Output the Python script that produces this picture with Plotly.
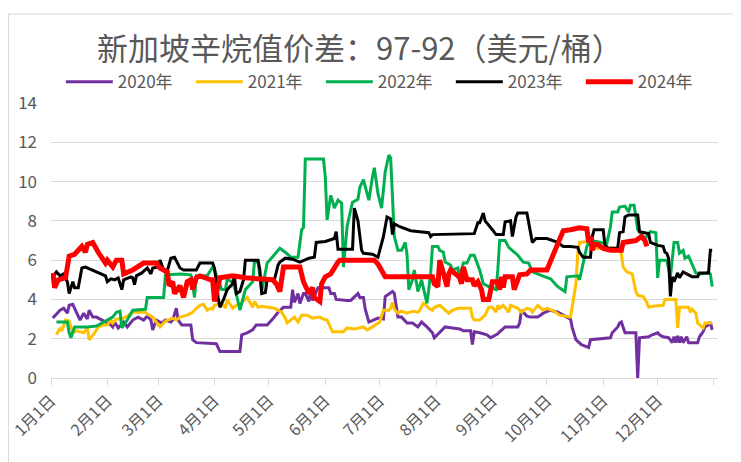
import pandas as pd
import plotly.graph_objects as go

# day of year (1 = Jan 1) and spread values for each year
day_2020 = [2, 5, 6, 8, 10, 11, 13, 14, 15, 17, 19, 21, 22, 24, 26, 29, 32, 34, 35, 36, 38, 41, 43, 46, 49,
            52, 54, 56, 57, 59, 62, 64, 67, 68, 70, 71, 73, 78, 79, 81, 92, 94, 105, 106, 109, 112, 114, 120,
            123, 126, 129, 133, 134, 135, 137, 138, 140, 141, 143, 144, 145, 148, 154, 155, 157, 158, 164, 166,
            170, 171, 173, 174, 176, 181, 184, 185, 189, 190, 192, 194, 197, 200, 203, 205, 208, 211, 212, 215,
            218, 222, 226, 228, 232, 233, 234, 237, 241, 243, 247, 248, 251, 254, 258, 259, 260, 263, 265, 269,
            272, 276, 280, 283, 287, 288, 290, 293, 296, 297, 298, 309, 310, 313, 314, 315, 317, 320, 323, 324,
            325, 330, 332, 335, 336, 338, 341, 343, 344, 345, 346, 347, 348, 349, 351, 352, 354, 357, 358, 360,
            361, 363, 364, 365]
val_2020 = [3.05, 3.35, 3.45, 3.55, 3.3, 3.7, 3.75, 3.55, 3.35, 2.95, 3.3, 3.0, 3.45, 3.1, 3.1, 2.95, 2.8, 2.7,
            2.6, 2.85, 2.55, 2.85, 2.6, 2.95, 3.1, 2.95, 3.15, 2.95, 2.45, 2.95, 2.8, 2.95, 2.85, 2.95, 3.55,
            2.95, 2.7, 2.7, 1.95, 1.8, 1.75, 1.35, 1.35, 2.2, 2.3, 2.45, 2.7, 2.7, 3.0, 3.35, 3.6, 3.6, 4.5,
            3.85, 4.3, 3.8, 4.3, 4.3, 3.9, 4.4, 3.95, 4.6, 4.6, 4.3, 4.3, 4.0, 3.95, 3.95, 4.3, 4.1, 4.1, 3.5,
            2.85, 3.05, 3.0, 4.15, 4.4, 4.3, 3.1, 3.1, 2.8, 2.8, 2.6, 2.85, 2.6, 2.3, 2.05, 2.35, 2.6, 2.55,
            2.5, 2.4, 2.4, 1.7, 2.35, 2.3, 2.2, 2.05, 2.25, 2.35, 2.6, 2.6, 2.6, 2.8, 3.45, 3.15, 3.1, 3.1, 3.3,
            3.45, 3.35, 3.2, 3.0, 2.55, 1.95, 1.7, 1.6, 1.55, 1.95, 2.05, 2.3, 2.6, 2.8, 2.85, 2.3, 2.3, 2.3,
            0.0, 2.05, 2.1, 2.2, 2.3, 2.2, 2.1, 2.05, 1.8, 2.1, 1.8, 2.15, 1.8, 2.1, 1.8, 2.1, 1.8, 1.8, 1.8,
            2.1, 2.35, 2.6, 2.7, 2.85, 2.45]

day_2021 = [4, 6, 7, 9, 11, 13, 15, 19, 21, 22, 25, 27, 30, 32, 34, 35, 37, 39, 41, 43, 46, 53, 54, 57, 59, 61,
            64, 67, 68, 70, 72, 76, 79, 81, 83, 85, 87, 89, 90, 91, 93, 96, 97, 98, 101, 103, 105, 109, 111,
            112, 113, 115, 117, 120, 124, 128, 130, 131, 134, 135, 137, 139, 142, 145, 149, 151, 153, 155, 156,
            162, 164, 168, 171, 173, 175, 178, 182, 184, 187, 188, 189, 190, 192, 194, 197, 200, 203, 204, 206,
            207, 209, 211, 212, 215, 220, 222, 225, 232, 233, 234, 237, 239, 240, 242, 244, 246, 247, 248, 250,
            253, 254, 258, 260, 263, 265, 266, 269, 272, 274, 278, 281, 287, 288, 290, 291, 292, 297, 300, 314,
            315, 316, 318, 321, 323, 324, 327, 329, 330, 332, 338, 339, 345, 346, 347, 352, 353, 354, 356, 357,
            360, 361, 365]
val_2021 = [2.2, 2.55, 2.4, 2.95, 2.9, 2.3, 2.4, 2.3, 2.55, 1.95, 2.3, 2.6, 2.7, 2.7, 2.95, 2.8, 3.0, 3.0, 3.05,
            3.15, 3.35, 3.35, 3.25, 3.1, 2.85, 2.6, 2.9, 3.0, 3.05, 2.95, 3.1, 3.2, 3.35, 3.55, 3.7, 3.75, 3.45,
            3.55, 3.5, 3.7, 3.75, 3.7, 3.55, 4.0, 3.55, 3.7, 3.75, 4.1, 3.75, 3.6, 3.9, 3.6, 3.65, 3.6, 3.55,
            3.35, 3.05, 2.8, 3.0, 3.1, 2.85, 3.2, 3.2, 3.05, 3.1, 3.0, 2.95, 2.6, 2.35, 2.35, 2.55, 2.5, 2.55,
            2.6, 2.45, 2.6, 2.85, 3.45, 3.45, 3.55, 3.85, 3.5, 3.3, 3.4, 3.3, 3.4, 3.35, 3.45, 3.8, 3.75, 3.55,
            3.45, 3.6, 3.7, 3.3, 3.45, 3.55, 3.55, 3.1, 2.95, 2.95, 3.1, 3.2, 3.6, 3.6, 3.35, 3.7, 3.55, 3.7,
            3.35, 3.7, 3.55, 3.35, 3.55, 3.5, 3.35, 3.7, 3.45, 3.55, 3.4, 3.2, 3.1, 3.6, 4.8, 6.35, 6.9, 6.95,
            6.6, 6.6, 6.3, 5.65, 5.4, 5.3, 4.4, 4.2, 4.15, 3.85, 3.6, 3.65, 3.7, 4.0, 4.0, 2.55, 3.6, 3.6, 3.35,
            3.5, 3.3, 2.8, 2.55, 2.8, 2.8]

day_2022 = [4, 10, 11, 12, 14, 21, 26, 35, 37, 39, 40, 42, 43, 46, 53, 54, 63, 64, 72, 78, 79, 80, 81, 87, 90,
            91, 93, 95, 97, 98, 101, 103, 105, 108, 112, 113, 115, 117, 120, 123, 125, 127, 130, 133, 137, 139,
            140, 141, 151, 152, 153, 155, 156, 157, 159, 161, 162, 164, 166, 167, 170, 171, 173, 174, 176, 178,
            179, 181, 183, 185, 187, 188, 189, 190, 192, 194, 196, 197, 198, 200, 201, 203, 205, 207, 208, 210,
            211, 214, 215, 217, 218, 221, 222, 225, 226, 228, 230, 232, 234, 237, 239, 242, 246, 247, 248, 251,
            253, 258, 261, 264, 266, 273, 276, 280, 284, 285, 291, 292, 294, 296, 298, 303, 307, 309, 310, 313,
            314, 317, 319, 320, 322, 323, 324, 328, 331, 334, 335, 336, 340, 342, 344, 346, 347, 349, 350, 352,
            354, 356, 358, 363, 364, 365]
val_2022 = [2.85, 2.85, 2.3, 2.05, 2.6, 2.6, 2.65, 3.1, 3.35, 3.4, 2.55, 2.8, 2.95, 3.45, 3.5, 4.1, 4.1, 5.25,
            5.3, 5.25, 4.8, 4.1, 5.2, 5.2, 5.65, 5.5, 5.0, 4.5, 4.5, 5.0, 4.9, 4.3, 3.45, 4.5, 4.9, 5.9, 5.9,
            4.4, 5.85, 6.15, 6.4, 6.6, 6.4, 6.15, 6.15, 7.55, 7.65, 11.15, 11.15, 10.25, 8.05, 9.3, 9.0, 8.65,
            9.05, 8.9, 5.65, 7.7, 8.55, 8.95, 9.1, 9.7, 10.1, 9.7, 9.05, 10.25, 10.7, 9.4, 8.65, 10.5, 11.35,
            11.2, 9.4, 7.2, 6.5, 6.5, 6.9, 6.3, 4.5, 5.0, 5.5, 4.4, 5.0, 4.1, 3.8, 5.3, 6.7, 6.7, 6.5, 6.4, 5.9,
            5.75, 5.5, 5.6, 5.15, 5.85, 5.85, 6.25, 6.25, 5.5, 4.8, 4.65, 4.5, 5.5, 7.0, 7.0, 6.65, 6.25, 5.9,
            5.85, 5.4, 5.15, 5.05, 4.65, 4.4, 5.15, 5.2, 5.0, 5.85, 6.7, 7.0, 6.9, 6.85, 7.7, 8.45, 8.45, 8.7,
            8.75, 8.45, 8.8, 8.8, 8.2, 7.55, 7.1, 7.45, 7.4, 5.1, 6.0, 6.0, 5.15, 6.9, 6.9, 6.35, 6.5, 6.1, 6.2,
            5.75, 5.35, 5.3, 5.35, 5.3, 4.65]

day_2023 = [2, 4, 6, 8, 10, 11, 13, 14, 16, 18, 20, 30, 31, 32, 34, 36, 38, 40, 41, 45, 46, 47, 48, 51, 54, 56,
            57, 60, 61, 63, 65, 67, 69, 72, 74, 81, 83, 90, 91, 93, 94, 96, 98, 101, 102, 103, 105, 107, 108,
            115, 116, 117, 119, 120, 124, 126, 127, 130, 134, 138, 143, 146, 147, 152, 156, 157, 158, 159, 167,
            168, 170, 171, 172, 173, 178, 181, 184, 186, 188, 189, 190, 193, 199, 204, 209, 210, 211, 234, 236,
            237, 239, 240, 242, 244, 246, 250, 251, 254, 255, 257, 258, 263, 265, 266, 268, 274, 280, 283, 287,
            291, 292, 294, 298, 299, 300, 305, 306, 308, 313, 314, 316, 317, 319, 324, 325, 328, 330, 331, 335,
            338, 339, 340, 341, 342, 343, 344, 346, 347, 349, 352, 354, 357, 358, 363, 364, 365]
val_2023 = [5.15, 5.4, 5.2, 5.3, 4.9, 4.3, 4.9, 4.6, 4.6, 5.6, 5.65, 5.25, 5.2, 4.9, 5.05, 5.0, 5.1, 4.5, 5.0,
            5.15, 5.1, 4.75, 5.2, 5.35, 5.6, 5.3, 5.6, 5.65, 6.0, 5.5, 5.45, 6.1, 6.15, 5.6, 5.5, 5.5, 5.85,
            5.85, 5.6, 4.1, 3.6, 4.0, 4.5, 4.8, 5.2, 4.3, 4.4, 5.0, 6.0, 6.0, 5.5, 4.3, 4.35, 5.0, 5.0, 5.75,
            5.9, 6.1, 6.05, 5.9, 6.1, 6.15, 6.9, 6.95, 7.05, 7.1, 7.45, 6.55, 6.55, 8.65, 8.0, 7.2, 6.5, 6.35,
            6.3, 6.15, 7.2, 8.2, 8.1, 7.3, 7.85, 7.7, 7.5, 7.45, 7.4, 7.2, 7.3, 7.35, 7.9, 7.9, 8.4, 8.0, 7.8,
            7.55, 7.3, 7.3, 7.95, 8.0, 7.2, 8.2, 8.4, 8.4, 7.4, 6.9, 7.1, 7.1, 6.9, 6.7, 6.7, 6.65, 6.4, 6.15,
            6.15, 7.2, 7.55, 7.55, 6.75, 6.6, 6.6, 7.4, 7.45, 8.2, 8.3, 8.3, 7.45, 7.4, 7.35, 6.9, 6.75, 6.7,
            6.4, 6.35, 6.1, 4.15, 5.15, 4.9, 5.35, 5.1, 5.4, 5.25, 5.15, 5.15, 5.35, 5.35, 6.5, 6.5]

day_2024 = [2, 3, 5, 9, 11, 14, 18, 20, 21, 24, 27, 31, 32, 35, 37, 40, 41, 46, 52, 59, 61, 63, 65, 66, 68, 69,
            72, 74, 76, 78, 79, 81, 83, 89, 90, 91, 93, 94, 101, 108, 123, 125, 127, 129, 138, 140, 143, 145,
            146, 149, 150, 152, 155, 157, 159, 160, 179, 181, 185, 211, 212, 214, 215, 217, 219, 220, 221, 225,
            226, 227, 228, 230, 233, 234, 236, 238, 239, 242, 243, 244, 247, 248, 249, 250, 251, 255, 256, 258,
            259, 263, 265, 274, 279, 283, 287, 292, 296, 297, 298, 299, 300, 302, 305, 309, 315, 316, 323, 326,
            328, 329]
val_2024 = [5.35, 4.6, 5.0, 5.1, 6.2, 6.3, 6.7, 6.4, 6.8, 6.9, 6.4, 5.85, 6.0, 5.65, 6.0, 6.0, 5.3, 5.5, 5.85,
            5.85, 5.6, 5.5, 5.4, 4.7, 4.9, 4.3, 4.7, 4.1, 4.9, 5.0, 4.5, 5.1, 5.2, 5.0, 5.0, 3.9, 4.6, 5.1, 5.2,
            5.1, 5.0, 4.8, 4.4, 5.65, 5.65, 4.9, 4.3, 4.6, 4.1, 3.9, 4.8, 5.15, 5.3, 5.65, 5.9, 6.0, 6.0, 5.8,
            5.15, 5.15, 4.8, 4.65, 6.0, 5.35, 4.65, 5.3, 5.5, 5.2, 5.1, 4.8, 5.65, 5.0, 5.0, 4.7, 4.9, 4.5, 4.0,
            4.0, 4.6, 4.9, 4.9, 4.5, 5.15, 4.6, 5.15, 5.15, 4.5, 5.15, 5.25, 5.3, 5.5, 5.5, 6.7, 7.5, 7.55, 7.65,
            7.6, 6.9, 7.2, 6.5, 6.8, 6.8, 6.6, 6.5, 6.5, 6.9, 7.0, 7.2, 7.0, 6.7]

month_labels = ["1月1日", "2月1日", "3月1日", "4月1日", "5月1日", "6月1日",
                "7月1日", "8月1日", "9月1日", "10月1日", "11月1日", "12月1日", ""]

series = [
    ("2020年", day_2020, val_2020, "#7030A0", 3),
    ("2021年", day_2021, val_2021, "#FFC000", 3),
    ("2022年", day_2022, val_2022, "#00B050", 3),
    ("2023年", day_2023, val_2023, "#000000", 3),
    ("2024年", day_2024, val_2024, "#FF0000", 5),
]

FONT = "Noto Sans CJK SC"
GREY = "#595959"
base = pd.Timestamp("2023-01-01")


def to_dates(days):
    # every year is drawn on a common calendar
    return base + pd.to_timedelta([d - 1 for d in days], unit="D")


fig = go.Figure()
for name, days, vals, color, width in series:
    fig.add_trace(
        go.Scatter(
            x=to_dates(days),
            y=vals,
            mode="lines",
            name=name,
            line=dict(color=color, width=width),
        )
    )

tick_dates = pd.date_range("2023-01-01", "2024-01-01", freq="MS")

# the page body adds an 8px margin, so the figure is 8px smaller each way
fig.update_layout(
    width=733,
    height=454,
    margin=dict(l=43, r=23, t=95, b=84, autoexpand=False),
    paper_bgcolor="white",
    plot_bgcolor="white",
    font=dict(family=FONT, color=GREY),
    title=dict(
        text="新加坡辛烷值价差：97-92（美元/桶）",
        font=dict(size=31, color=GREY, family=FONT),
        x=0.480,
        xref="container",
        xanchor="center",
        y=0.9097,
        yanchor="middle",
    ),
    legend=dict(
        orientation="h",
        x=0.502,
        xanchor="center",
        y=1.076,
        yanchor="middle",
        font=dict(size=17, color=GREY),
        entrywidth=68,
        itemwidth=47,
        bgcolor="rgba(0,0,0,0)",
    ),
    xaxis=dict(
        type="date",
        range=["2023-01-01", "2024-01-03 05:00"],
        tickvals=tick_dates,
        ticktext=month_labels,
        tickangle=-45,
        showgrid=False,
        showline=True,
        linecolor="#d9d9d9",
        linewidth=1,
        ticks="outside",
        ticklen=6,
        tickcolor="#d9d9d9",
        tickfont=dict(size=16, color=GREY),
        automargin=False,
    ),
    yaxis=dict(
        range=[0, 14],
        dtick=2,
        showgrid=True,
        gridcolor="#d9d9d9",
        gridwidth=1,
        zeroline=False,
        showline=False,
        ticks="",
        ticklabelstandoff=13,
        tickfont=dict(size=17, color=GREY),
        automargin=False,
    ),
    shapes=[
        dict(
            type="rect",
            xref="paper",
            yref="paper",
            x0=-0.0637,
            x1=1.03,
            y0=-0.32,
            y1=1.3236,
            line=dict(color="#d9d9d9", width=1),
            layer="below",
        )
    ],
)

fig.write_html("out.html")
